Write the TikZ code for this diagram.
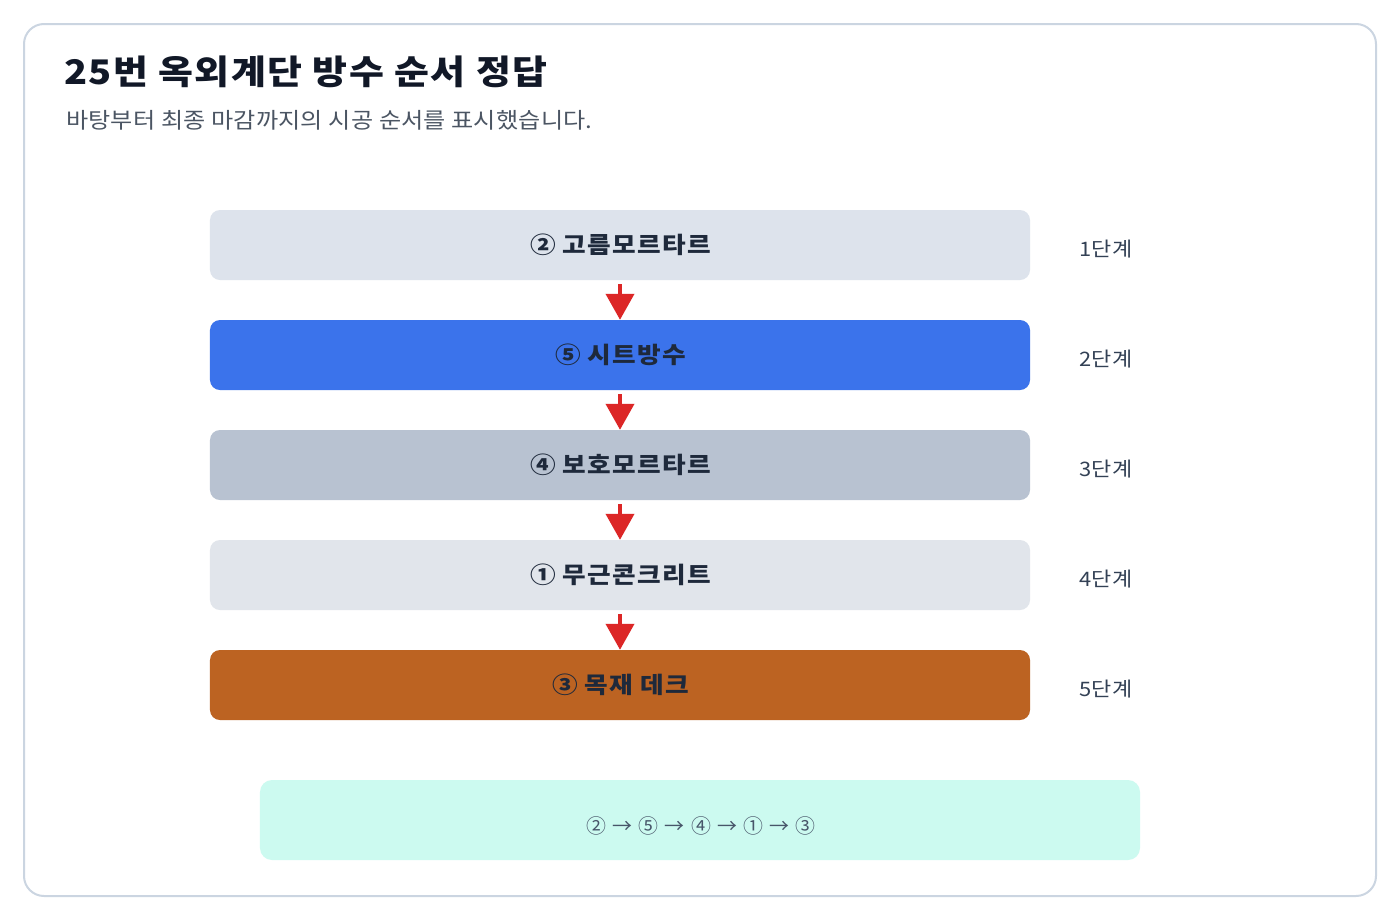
\documentclass[tikz,border=0pt]{standalone}
\usepackage{fontspec}
\setmainfont{Noto Sans CJK KR}
\usetikzlibrary{arrows.meta}
\definecolor{frameC}{HTML}{CBD5E1}
\definecolor{boxA}{HTML}{DDE3EC}
\definecolor{boxB}{HTML}{3B73EB}
\definecolor{boxC}{HTML}{B8C2D1}
\definecolor{boxD}{HTML}{E1E5EB}
\definecolor{boxE}{HTML}{BC6322}
\definecolor{sumC}{HTML}{CCFAF0}
\definecolor{titleC}{HTML}{111827}
\definecolor{subC}{HTML}{4B5563}
\definecolor{labC}{HTML}{1E293B}
\definecolor{stepC}{HTML}{334155}
\definecolor{sumT}{HTML}{475569}
\definecolor{redC}{HTML}{DC2626}
\newcommand{\boxlab}[1]{\raisebox{-2bp}{\hspace*{1.5bp}#1}}
\tikzset{
  stepbox/.style={rounded corners=10bp, minimum width=820bp, minimum height=70bp, inner sep=0pt,
    text=labC, font=\fontsize{23}{26}\selectfont\bfseries\addfontfeature{FakeStretch=1.12,LetterSpace=6}},
  steplab/.style={anchor=west, inner sep=0pt, text=stepC, font=\fontsize{20}{24}\selectfont\addfontfeature{FakeStretch=1.1,LetterSpace=2}},
  flow/.style={draw=redC, line width=4bp, -{Triangle[length=26bp,width=28bp]}, shorten >=0pt}
}
\begin{document}
\begin{tikzpicture}[x=1bp,y=-1bp]
\useasboundingbox (0,0) rectangle (1400,920);
\draw[frameC, line width=2bp, rounded corners=20bp, fill=white] (24,24) rectangle (1376,896);
\node[anchor=west, inner sep=0pt, text=titleC, font=\fontsize{34}{40}\selectfont\bfseries\addfontfeature{FakeStretch=1.12,LetterSpace=4.5}] (title) at (64,72) {25번 옥외계단 방수 순서 정답};
\node[anchor=west, inner sep=0pt, text=subC, font=\fontsize{22}{26}\selectfont\addfontfeature{FakeStretch=1.1,LetterSpace=1}] (sub) at (66,120) {바탕부터 최종 마감까지의 시공 순서를 표시했습니다.};

\node[stepbox, fill=boxA] (b1) at (620,245) {\boxlab{② 고름모르타르}};
\node[stepbox, fill=boxB] (b2) at (620,355) {\boxlab{⑤ 시트방수}};
\node[stepbox, fill=boxC] (b3) at (620,465) {\boxlab{④ 보호모르타르}};
\node[stepbox, fill=boxD] (b4) at (620,575) {\boxlab{① 무근콘크리트}};
\node[stepbox, fill=boxE] (b5) at (620,685) {\boxlab{③ 목재 데크}};

\node[steplab] (s1) at (1079,249) {1단계};
\node[steplab] (s2) at (1079,359) {2단계};
\node[steplab] (s3) at (1079,469) {3단계};
\node[steplab] (s4) at (1079,579) {4단계};
\node[steplab] (s5) at (1079,689) {5단계};

\coordinate (c1) at (620,284);
\coordinate (c2) at (620,394);
\coordinate (c3) at (620,504);
\coordinate (c4) at (620,614);
\draw[flow] (c1) -- (c1 |- b2.north);
\draw[flow] (c2) -- (c2 |- b3.north);
\draw[flow] (c3) -- (c3 |- b4.north);
\draw[flow] (c4) -- (c4 |- b5.north);

\node[fill=sumC, rounded corners=12bp, minimum width=880bp, minimum height=80bp, inner sep=0pt] (sum) at (700,820) {};
\node[inner sep=0pt, text=sumT, font=\fontsize{20}{24}\selectfont\addfontfeature{LetterSpace=9}] (sumtxt) at (701,826) {② → ⑤ → ④ → ① → ③};
\end{tikzpicture}
\end{document}
